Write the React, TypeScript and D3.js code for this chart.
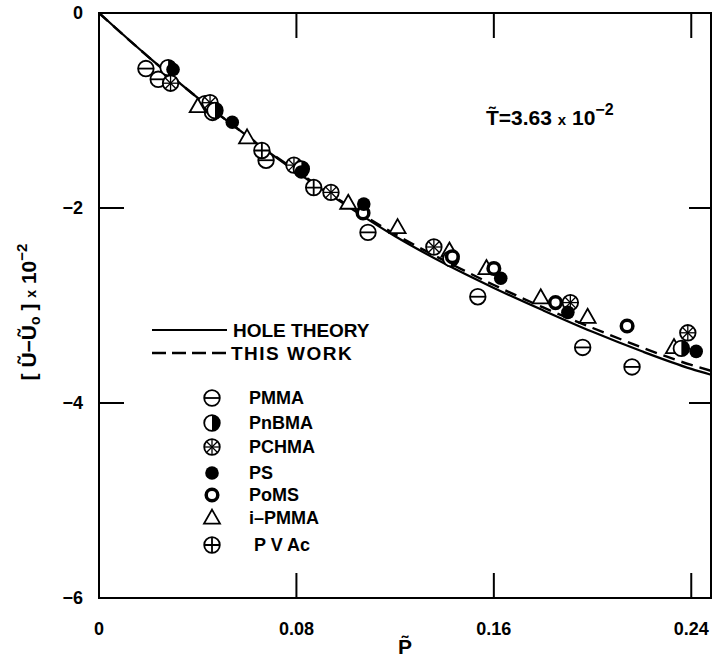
import * as d3 from 'd3';
import React from 'react';

// hole theory curve and this work
const curveP = [0, 0.02, 0.04, 0.06, 0.08, 0.10, 0.12, 0.14, 0.16, 0.18, 0.20, 0.22, 0.24, 0.248];
const holeTheory = [0, -0.45, -0.87, -1.26, -1.63, -1.97, -2.29, -2.57, -2.82, -3.05, -3.27, -3.47, -3.65, -3.71];
const thisWork = [0, -0.45, -0.87, -1.26, -1.62, -1.96, -2.27, -2.54, -2.79, -3.02, -3.23, -3.43, -3.61, -3.67];

const xTicks = [0, 0.08, 0.16, 0.24];
const yTicks = [0, -2, -4, -6];

const pmma = [[0.019, -0.57], [0.024, -0.68], [0.046, -1.02], [0.0677, -1.51], [0.109, -2.25], [0.1535, -2.91], [0.196, -3.43], [0.216, -3.63]];
const pnbma = [[0.028, -0.56], [0.047, -1.0], [0.082, -1.6], [0.1426, -2.52], [0.236, -3.44]];
const pchma = [[0.029, -0.72], [0.045, -0.92], [0.079, -1.56], [0.094, -1.84], [0.1357, -2.4], [0.191, -2.97], [0.2386, -3.28]];
const ps = [[0.03, -0.58], [0.054, -1.12], [0.082, -1.63], [0.1073, -1.96], [0.1628, -2.72], [0.19, -3.07], [0.242, -3.47]];
const poms = [[0.107, -2.05], [0.1432, -2.5], [0.16, -2.62], [0.185, -2.97], [0.214, -3.21]];
const ipmma = [[0.04, -0.96], [0.06, -1.28], [0.101, -1.95], [0.121, -2.2], [0.142, -2.44], [0.157, -2.62], [0.179, -2.92], [0.198, -3.12], [0.233, -3.43]];
const pvac = [[0.043, -0.93], [0.066, -1.41], [0.087, -1.79]];

const legendNames = ['PMMA', 'PnBMA', 'PCHMA', 'PS', 'PoMS', 'i\u2013PMMA', 'P V Ac'];
const legendKinds = ['pmma', 'pnbma', 'pchma', 'ps', 'poms', 'ipmma', 'pvac'];

const font = '"Liberation Sans", Arial, sans-serif';

function Marker({ kind, x, y }: { kind: string; x: number; y: number }) {
  const r = 7.8;
  const sw = 1.8;
  if (kind === 'ps') return <circle cx={x} cy={y} r={6.8} fill="#000" />;
  if (kind === 'poms') return <circle cx={x} cy={y} r={5.8} fill="#fff" stroke="#000" strokeWidth={3.5} />;
  if (kind === 'ipmma') {
    const h = 14, w = 16;
    return <path d={`M${x},${y - h * 0.6}L${x + w / 2},${y + h * 0.4}L${x - w / 2},${y + h * 0.4}Z`} fill="#fff" stroke="#000" strokeWidth={sw} />;
  }
  return (
    <g>
      <circle cx={x} cy={y} r={r} fill="#fff" stroke="#000" strokeWidth={sw} />
      {kind === 'pmma' && <line x1={x - r} x2={x + r} y1={y} y2={y} stroke="#000" strokeWidth={sw} />}
      {kind === 'pvac' && <path d={`M${x - r},${y}H${x + r}M${x},${y - r}V${y + r}`} stroke="#000" strokeWidth={sw} />}
      {kind === 'pnbma' && <path d={`M${x},${y - r}A${r},${r} 0 0 1 ${x},${y + r}Z`} fill="#000" />}
      {kind === 'pchma' && [0, 45, 90, 135].map(a => {
        const dx = Math.cos((a * Math.PI) / 180) * r, dy = Math.sin((a * Math.PI) / 180) * r;
        return <line key={a} x1={x - dx} x2={x + dx} y1={y - dy} y2={y + dy} stroke="#000" strokeWidth={1.3} />;
      })}
    </g>
  );
}

export default function App() {
  const width = 716, height = 660;
  const x = d3.scaleLinear().domain([0, 0.248]).range([99, 711]);
  const y = d3.scaleLinear().domain([0, -6]).range([13, 598]);
  const line = d3.line<number>().x((d, i) => x(curveP[i])).y(d => y(d)).curve(d3.curveMonotoneX);

  const series: [string, number[][]][] = [
    ['pmma', pmma], ['pvac', pvac], ['ipmma', ipmma], ['pchma', pchma], ['pnbma', pnbma], ['poms', poms], ['ps', ps]
  ];

  return (
    <svg width={width} height={height} style={{ position: 'absolute', left: 0, top: 0, background: '#fff' }}
      fontFamily={font} fontWeight="bold">
      {/* frame */}
      <rect x={x(0)} y={y(0)} width={x(0.248) - x(0)} height={y(-6) - y(0)} fill="none" stroke="#000" strokeWidth={2} />
      {xTicks.slice(1).map(t => (
        <g key={t}>
          <line x1={x(t)} x2={x(t)} y1={y(-6)} y2={y(-6) - 25} stroke="#000" strokeWidth={2} />
          <line x1={x(t)} x2={x(t)} y1={y(0)} y2={y(0) + 25} stroke="#000" strokeWidth={2} />
        </g>
      ))}
      {yTicks.slice(1, 3).map(t => (
        <g key={t}>
          <line x1={x(0)} x2={x(0) + 25} y1={y(t)} y2={y(t)} stroke="#000" strokeWidth={2} />
          <line x1={x(0.248)} x2={x(0.248) - 22} y1={y(t)} y2={y(t)} stroke="#000" strokeWidth={2} />
        </g>
      ))}
      {xTicks.map(t => (
        <text key={t} x={x(t)} y={635} fontSize={18} textAnchor="middle">{t === 0 ? '0' : d3.format('.2f')(t)}</text>
      ))}
      {yTicks.map(t => (
        <text key={t} x={83} y={y(t) + 6} fontSize={18} textAnchor="end">{t === 0 ? '0' : '\u2212' + Math.abs(t)}</text>
      ))}
      {/* axis titles */}
      <text x={405} y={654} fontSize={21} textAnchor="middle">P&#771;</text>
      <text transform="translate(36,312) rotate(-90)" fontSize={21} textAnchor="middle">
        [ U&#771;&#8722;U&#771;<tspan fontSize={14} dy={4}>o</tspan><tspan dy={-4}> ] </tspan>
        <tspan fontSize={14}>x</tspan> 10<tspan fontSize={15} dy={-9}>&#8722;2</tspan>
      </text>
      <text x={486} y={125} fontSize={21}>
        T&#771;=3.63 <tspan fontSize={15}>x</tspan> 10<tspan fontSize={16} dy={-10}>&#8722;2</tspan>
      </text>

      {/* curves */}
      <path d={line(holeTheory) || ''} fill="none" stroke="#000" strokeWidth={2.2} />
      <path d={line(thisWork) || ''} fill="none" stroke="#000" strokeWidth={2.4} strokeDasharray="12,7" />

      {series.map(([kind, pts]) => pts.map((p, i) => <Marker key={kind + i} kind={kind} x={x(p[0])} y={y(p[1])} />))}

      {/* legend */}
      <line x1={152} x2={227} y1={330} y2={330} stroke="#000" strokeWidth={2} />
      <text x={233} y={337} fontSize={19}>HOLE THEORY</text>
      <line x1={152} x2={227} y1={353} y2={353} stroke="#000" strokeWidth={2.6} strokeDasharray="14,6" />
      <text x={231} y={360} fontSize={19} letterSpacing={1.5}>THIS  WORK</text>
      {legendKinds.map((k, i) => {
        const ly = [398, 423, 447, 473, 495, 518, 545][i];
        return (
          <g key={k}>
            <Marker kind={k} x={212} y={ly} />
            <text x={k === 'pvac' ? 254 : 249} y={ly + 6} fontSize={18}>{legendNames[i]}</text>
          </g>
        );
      })}
    </svg>
  );
}
